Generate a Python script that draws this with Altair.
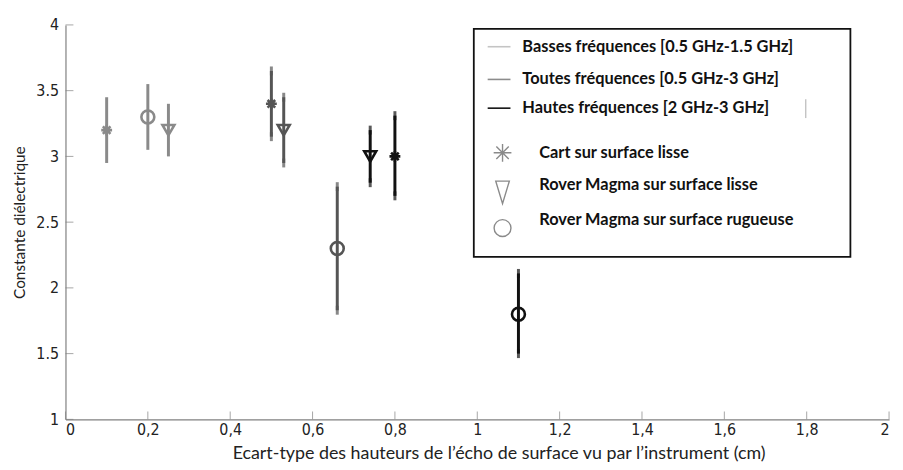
import altair as alt
import pandas as pd

# ---- data ----
x_vals = [0.1, 0.2, 0.25, 0.5, 0.53, 0.66, 0.74, 0.8, 1.1]
y_vals = [3.2, 3.3, 3.2, 3.4, 3.2, 2.3, 3.0, 3.0, 1.8]
y_low = [2.95, 3.05, 3.0, 3.15, 2.95, 1.83, 2.8, 2.7, 1.5]
y_high = [3.45, 3.55, 3.4, 3.65, 3.45, 2.77, 3.2, 3.31, 2.11]

band_labels = ["Basses fréquences [0.5 GHz-1.5 GHz]",
               "Toutes fréquences [0.5 GHz-3 GHz]",
               "Hautes fréquences [2 GHz-3 GHz]"]
marker_labels = ["Cart sur surface lisse",
                 "Rover Magma sur surface lisse",
                 "Rover Magma sur surface rugueuse"]

bands = [0, 0, 0, 1, 1, 1, 2, 2, 2]
markers = [0, 2, 1, 0, 1, 2, 1, 0, 2]

x_ticks = [0, 0.2, 0.4, 0.6, 0.8, 1, 1.2, 1.4, 1.6, 1.8, 2]
y_ticks = [1, 1.5, 2, 2.5, 3, 3.5, 4]

x_title = "Ecart-type des hauteurs de l\u2019écho de surface vu par l\u2019instrument (cm)"
y_title = "Constante diélectrique"

# ---- styles ----
W, H = 831, 398
point_colors = ["#8a8a8a", "#555555", "#111111"]
legend_line_colors = ["#c4c4c4", "#8c8c8c", "#111111"]
ASTER = "M-1,0L1,0M0,-1L0,1M-0.7,-0.7L0.7,0.7M-0.7,0.7L0.7,-0.7"
shape_range = [ASTER, "triangle-down", "circle"]
TICK_FONT = "Liberation Sans Narrow, DejaVu Sans Condensed, sans-serif"

df = pd.DataFrame({
    "x": x_vals, "y": y_vals, "lo": y_low, "hi": y_high,
    "band": [band_labels[b] for b in bands],
    "marker": [marker_labels[m] for m in markers],
})

xs = alt.Scale(domain=[0, 2], nice=False, padding=0)
ys = alt.Scale(domain=[1, 4], nice=False, padding=0)
col = alt.Color("band:N", scale=alt.Scale(domain=band_labels, range=point_colors), legend=None)

base = alt.Chart(df)

xaxis = alt.Axis(values=x_ticks, labelExpr="replace(toString(datum.value), '.', ',')",
                 grid=False, ticks=False, domainColor="#808080", domainWidth=1.2,
                 labelFont=TICK_FONT, labelFontSize=16, labelColor="#222", labelPadding=2,
                 title=x_title, titleFont="Lato", titleFontSize=18, titleFontWeight="normal",
                 titleColor="#222", titlePadding=8, titleX=437, titleAlign="center")
yaxis = alt.Axis(values=y_ticks, labelExpr="toString(datum.value)",
                 grid=False, ticks=False, domainColor="#808080", domainWidth=1.2,
                 labelFont=TICK_FONT, labelFontSize=16, labelColor="#222", labelPadding=7,
                 title=y_title, titleFont="Lato", titleFontSize=15.5, titleFontWeight="normal",
                 titleColor="#222", titlePadding=8)

bars = base.mark_rule(strokeWidth=3).encode(
    x=alt.X("x:Q", scale=xs, axis=xaxis),
    y=alt.Y("lo:Q", scale=ys, axis=yaxis),
    y2="hi:Q",
    color=col,
)

caps_data = base.transform_filter(alt.datum.band != band_labels[0])
cap_lo = caps_data.mark_tick(thickness=3, size=9).encode(
    x=alt.X("x:Q", scale=xs), y=alt.Y("lo:Q", scale=ys), color=col)
cap_hi = caps_data.mark_tick(thickness=3, size=9).encode(
    x=alt.X("x:Q", scale=xs), y=alt.Y("hi:Q", scale=ys), color=col)

points = base.mark_point(filled=False, strokeWidth=2.6, opacity=1).encode(
    x=alt.X("x:Q", scale=xs),
    y=alt.Y("y:Q", scale=ys),
    color=col,
    shape=alt.Shape("marker:N", scale=alt.Scale(domain=marker_labels, range=shape_range), legend=None),
    size=alt.Size("marker:N", scale=alt.Scale(domain=marker_labels, range=[120, 170, 140]), legend=None),
)

# inward ticks
xt = alt.Chart(pd.DataFrame({"t": x_ticks})).mark_tick(orient="vertical", size=8, thickness=1,
                                                        color="#808080").encode(
    x=alt.X("t:Q", scale=xs), y=alt.value(H - 4))
yt = alt.Chart(pd.DataFrame({"t": y_ticks})).mark_tick(orient="horizontal", size=8, thickness=1,
                                                        color="#808080").encode(
    y=alt.Y("t:Q", scale=ys), x=alt.value(4))

# ---- manual legend box ----
one = alt.Data(values=[{}])
layers = [bars, cap_lo, cap_hi, points, xt, yt]
box = alt.Chart(one).mark_rect(fill="white", stroke="#111", strokeWidth=1.8).encode(
    x=alt.value(412), x2=alt.value(792), y=alt.value(4), y2=alt.value(234))
layers.append(box)

line_rows = [22, 55, 84]
for i, lab in enumerate(band_labels):
    ly = line_rows[i]
    layers.append(alt.Chart(one).mark_rule(color=legend_line_colors[i], strokeWidth=1.6).encode(
        x=alt.value(426), x2=alt.value(449), y=alt.value(ly)))
    layers.append(alt.Chart(one).mark_text(text=lab, align="left", baseline="middle", font="Lato",
                                           fontSize=16.5, fontWeight="bold", color="#111").encode(
        x=alt.value(461), y=alt.value(ly)))

# small stray mark inside the legend box
layers.append(alt.Chart(one).mark_rule(color="#aaaaaa", strokeWidth=1).encode(
    x=alt.value(747), y=alt.value(75), y2=alt.value(94)))

sym_rows = [(129, 129), (169, 162), (205, 197)]
sym_sizes = [320, 520, 290]
for i, lab in enumerate(marker_labels):
    sy, ty = sym_rows[i]
    if i == 1:
        shp = "M-0.6,-1L0.6,-1L0,1Z"
    else:
        shp = shape_range[i]
    layers.append(alt.Chart(one).mark_point(shape=shp, filled=False, strokeWidth=1.4,
                                            color="#8a8a8a", size=sym_sizes[i], opacity=1).encode(
        x=alt.value(441), y=alt.value(sy)))
    layers.append(alt.Chart(one).mark_text(text=lab, align="left", baseline="middle", font="Lato",
                                           fontSize=16.5, fontWeight="bold", color="#111").encode(
        x=alt.value(478), y=alt.value(ty)))

chart = alt.layer(*layers).properties(
    width=W, height=H,
    autosize=alt.AutoSizeParams(type="none"),
    padding={"left": 58, "top": 15, "right": 6, "bottom": 46},
    background="white",
).configure_view(stroke=None)

chart.save("out.html", embed_options={"renderer": "svg", "actions": False})
